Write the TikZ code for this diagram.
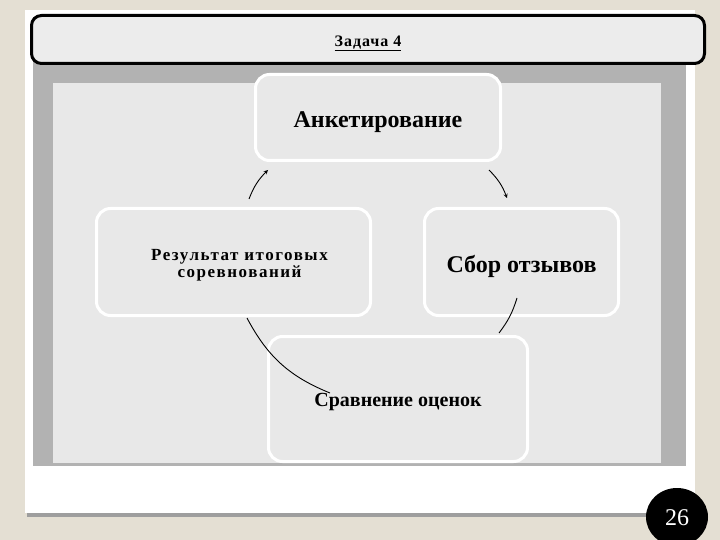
\documentclass[tikz,border=0pt]{standalone}
\usepackage{fontspec}
\setmainfont{Liberation Serif}
\usepackage{tikz}
\definecolor{beige}{RGB}{228, 223, 211}
\definecolor{frame}{RGB}{178, 178, 178}
\definecolor{panel}{RGB}{232, 232, 232}
\definecolor{bar}{RGB}{236, 236, 236}

\begin{document}
\begin{tikzpicture}[x=1pt, y=-1pt,
  box/.style={draw=white, line width=3pt, fill=panel, rounded corners=14pt,
    inner sep=0pt, align=center, font=\bfseries},
  link/.style={line width=0.9, ->, >=stealth},
  arc/.style={line width=0.9}
]
  \useasboundingbox (0, 0) rectangle (720, 540);
  \clip (0, 0) rectangle (720, 540);
  \fill[beige] (0, 0) rectangle (720, 540);

  % slide
  \fill[black!38] (27, 512) rectangle (695, 517);
  \fill[white] (25, 10) rectangle (695, 513);
  \fill[frame] (33, 62) rectangle (686, 466);
  \fill[panel] (53, 83) rectangle (661, 463);

  \node[draw=black, line width=3pt, fill=bar, rounded corners=10pt,
    minimum width=673, minimum height=48, inner sep=0pt,
    text height=17, text depth=3.5,
    font=\fontsize{16}{18}\selectfont\bfseries\addfontfeature{LetterSpace=6}]
    (title) at (368, 39.5) {\underline{Задача 4}};

  \node[box, minimum width=245, minimum height=86, text height=26, text depth=5.5,
    font=\fontsize{24}{28}\selectfont\bfseries] (anket) at (378, 117.5) {Анкетирование};
  \node[box, minimum width=274, minimum height=107, text height=35,
    font=\fontsize{17}{17}\selectfont\bfseries\addfontfeature{LetterSpace=9}]
    (rez) at (233.5, 262) {\hspace*{12pt}Результат итоговых\\\hspace*{12pt}соревнований};
  \node[box, minimum width=194, minimum height=107, text height=27, text depth=5.5,
    font=\fontsize{24}{28}\selectfont\bfseries] (sbor) at (521.5, 262) {Сбор отзывов};
  \node[box, minimum width=259, minimum height=125, text height=19.5, text depth=4.5,
    font=\fontsize{20}{24}\selectfont\bfseries] (sravn) at (398, 399) {Сравнение оценок};

  \draw[link] ([shift={(15.5, -8)}]rez.north) to[bend left=12]
    ([shift={(-110, 8)}]anket.south);
  \draw[link] ([shift={(111, 8)}]anket.south) to[bend left=12]
    ([shift={(-14.5, -9)}]sbor.north);
  \draw[arc] ([shift={(-4.5, -19)}]sbor.south) to[bend left=10]
    ([shift={(101, -2)}]sravn.north);
  \draw[arc] ([shift={(63, -6)}]sravn.west) to[bend left=20]
    ([shift={(13.5, 1)}]rez.south);

  \fill[black] (677, 517) ellipse (31 and 29);
  \node[text=white, font=\fontsize{24}{28}\selectfont] (page) at (677, 518) {26};
\end{tikzpicture}
\end{document}
